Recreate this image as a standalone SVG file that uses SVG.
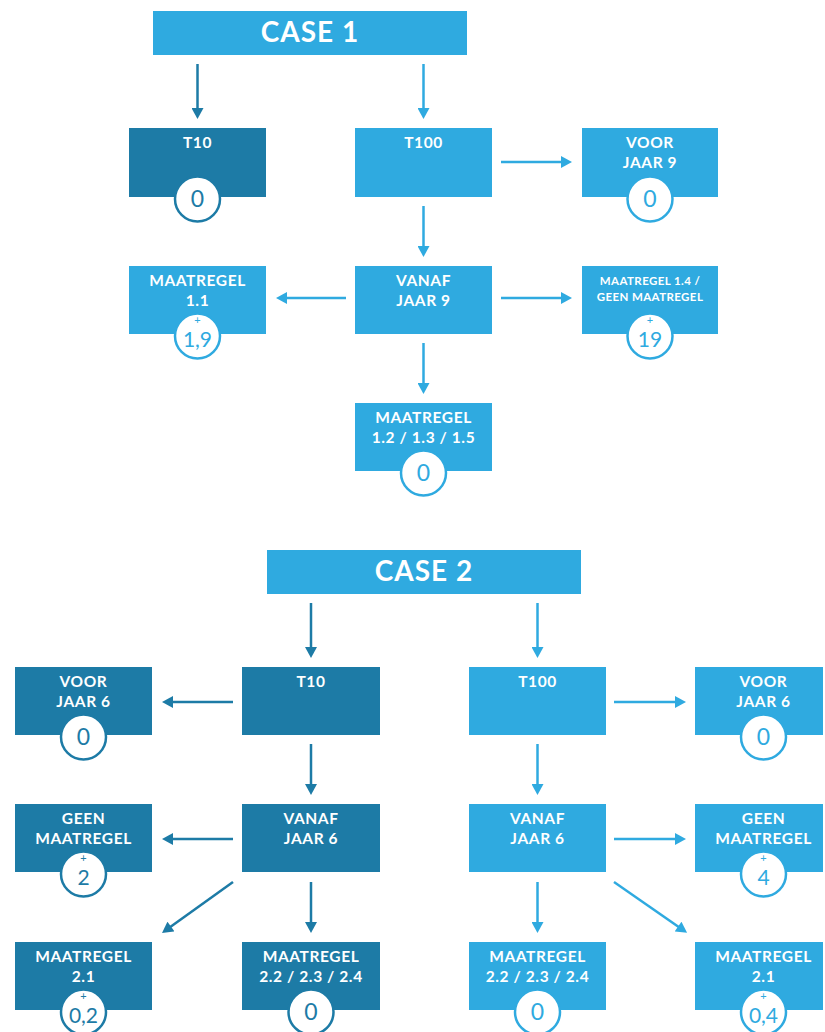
<svg xmlns="http://www.w3.org/2000/svg" width="825" height="1032" viewBox="0 0 825 1032">
<style>
.dk{fill:#1d7ba6}
.lt{fill:#2faae0}
.hd{font-family:Lato,"Liberation Sans",sans-serif;font-weight:700;font-size:28px;letter-spacing:1px;fill:#fff;text-anchor:middle}
.tt{font-family:Lato,"Liberation Sans",sans-serif;font-weight:700;font-size:15.5px;letter-spacing:0.6px;fill:#fff;text-anchor:middle}
.ts{font-family:Lato,"Liberation Sans",sans-serif;font-weight:700;font-size:11.5px;letter-spacing:0.4px;fill:#fff;text-anchor:middle}
.cd{fill:#fff;stroke:#1d7ba6;stroke-width:2.5}
.cl{fill:#fff;stroke:#2faae0;stroke-width:2.5}
.nd{font-family:Lato,"Liberation Sans",sans-serif;font-weight:400;font-size:23px;fill:#1d7ba6;text-anchor:middle}
.nl{font-family:Lato,"Liberation Sans",sans-serif;font-weight:400;font-size:23px;fill:#2faae0;text-anchor:middle}
.sd{font-family:Lato,"Liberation Sans",sans-serif;font-weight:400;font-size:21px;fill:#1d7ba6;text-anchor:middle}
.sl{font-family:Lato,"Liberation Sans",sans-serif;font-weight:400;font-size:21px;fill:#2faae0;text-anchor:middle}
.pd{font-family:Lato,"Liberation Sans",sans-serif;font-weight:400;font-size:11px;fill:#1d7ba6;text-anchor:middle}
.pl{font-family:Lato,"Liberation Sans",sans-serif;font-weight:400;font-size:11px;fill:#2faae0;text-anchor:middle}
.ad{stroke:#1d7ba6;stroke-width:2.5;fill:none;marker-end:url(#hd)}
.al{stroke:#2faae0;stroke-width:2.5;fill:none;marker-end:url(#hl)}
</style>
<defs>
<marker id="hd" markerUnits="userSpaceOnUse" markerWidth="12" markerHeight="12" viewBox="0 0 11 12" refX="3" refY="6" orient="auto"><path d="M0,0 L11,6 L0,12 z" fill="#1d7ba6"/></marker>
<marker id="hl" markerUnits="userSpaceOnUse" markerWidth="12" markerHeight="12" viewBox="0 0 11 12" refX="3" refY="6" orient="auto"><path d="M0,0 L11,6 L0,12 z" fill="#2faae0"/></marker>
</defs>

<g id="connectors">
<line class="ad" x1="197.5" y1="64" x2="197.5" y2="111"/>
<line class="al" x1="423.5" y1="64" x2="423.5" y2="111"/>
<line class="al" x1="501" y1="162" x2="564" y2="162"/>
<line class="al" x1="423.5" y1="206" x2="423.5" y2="249"/>
<line class="al" x1="346" y1="298" x2="284" y2="298"/>
<line class="al" x1="501" y1="298" x2="564" y2="298"/>
<line class="al" x1="423.5" y1="343" x2="423.5" y2="386"/>
<line class="ad" x1="311" y1="603" x2="311" y2="650"/>
<line class="al" x1="537.5" y1="603" x2="537.5" y2="650"/>
<line class="ad" x1="233" y1="702" x2="170" y2="702"/>
<line class="al" x1="614" y1="702" x2="678" y2="702"/>
<line class="ad" x1="311" y1="744" x2="311" y2="787"/>
<line class="al" x1="537.5" y1="744" x2="537.5" y2="787"/>
<line class="ad" x1="233" y1="839" x2="170" y2="839"/>
<line class="al" x1="614" y1="839" x2="678" y2="839"/>
<line class="ad" x1="311" y1="882" x2="311" y2="925"/>
<line class="al" x1="537.5" y1="882" x2="537.5" y2="925"/>
<line class="ad" x1="233" y1="882" x2="168.5" y2="928.3"/>
<line class="al" x1="614" y1="882" x2="680.5" y2="928.3"/>
</g>

<g id="case1">
<rect class="lt" x="153" y="11" width="314" height="44"/>
<text class="hd" x="310" y="42">CASE 1</text>
</g>
<g id="c1-t10">
<rect class="dk" x="129" y="128" width="137" height="69"/>
<text class="tt" x="197.5" y="148">T10</text>
<circle class="cd" cx="197.5" cy="199" r="22.5"/>
<text class="nd" x="197.5" y="207">0</text>
</g>
<g id="c1-t100">
<rect class="lt" x="355" y="128" width="137" height="69"/>
<text class="tt" x="423.5" y="148">T100</text>
</g>
<g id="c1-voor">
<rect class="lt" x="582" y="128" width="136" height="69"/>
<text class="tt" x="650" y="148">VOOR</text>
<text class="tt" x="650" y="168">JAAR 9</text>
<circle class="cl" cx="650" cy="199" r="22.5"/>
<text class="nl" x="650" y="207">0</text>
</g>
<g id="c1-vanaf">
<rect class="lt" x="355" y="266" width="137" height="68"/>
<text class="tt" x="423.5" y="286">VANAF</text>
<text class="tt" x="423.5" y="306">JAAR 9</text>
</g>
<g id="c1-m11">
<rect class="lt" x="129" y="266" width="137" height="68"/>
<text class="tt" x="197.5" y="286">MAATREGEL</text>
<text class="tt" x="197.5" y="306">1.1</text>
<circle class="cl" cx="197.5" cy="336" r="22.5"/>
<text class="pl" x="197.5" y="324">+</text>
<text class="sl" x="197.5" y="346.5">1,9</text>
</g>
<g id="c1-m14">
<rect class="lt" x="582" y="266" width="136" height="68"/>
<text class="ts" x="650" y="285">MAATREGEL 1.4 /</text>
<text class="ts" x="650" y="301">GEEN MAATREGEL</text>
<circle class="cl" cx="650" cy="336" r="22.5"/>
<text class="pl" x="650" y="324">+</text>
<text class="sl" x="650" y="346.5">19</text>
</g>
<g id="c1-m12">
<rect class="lt" x="355" y="403" width="137" height="68"/>
<text class="tt" x="423.5" y="423">MAATREGEL</text>
<text class="tt" x="423.5" y="443">1.2 / 1.3 / 1.5</text>
<circle class="cl" cx="423.5" cy="473" r="22.5"/>
<text class="nl" x="423.5" y="481">0</text>
</g>

<g id="case2">
<rect class="lt" x="267" y="550" width="314" height="44"/>
<text class="hd" x="424" y="581">CASE 2</text>
</g>
<g id="c2-t10">
<rect class="dk" x="242" y="667" width="138" height="68"/>
<text class="tt" x="311" y="687">T10</text>
</g>
<g id="c2-voor-d">
<rect class="dk" x="15" y="667" width="137" height="68"/>
<text class="tt" x="83.5" y="687">VOOR</text>
<text class="tt" x="83.5" y="707">JAAR 6</text>
<circle class="cd" cx="83.5" cy="737" r="22.5"/>
<text class="nd" x="83.5" y="745">0</text>
</g>
<g id="c2-t100">
<rect class="lt" x="469" y="667" width="137" height="68"/>
<text class="tt" x="537.5" y="687">T100</text>
</g>
<g id="c2-voor-l">
<rect class="lt" x="695" y="667" width="128" height="68"/>
<text class="tt" x="763.5" y="687">VOOR</text>
<text class="tt" x="763.5" y="707">JAAR 6</text>
<circle class="cl" cx="763.5" cy="737" r="22.5"/>
<text class="nl" x="763.5" y="745">0</text>
</g>
<g id="c2-vanaf-d">
<rect class="dk" x="242" y="804" width="138" height="68"/>
<text class="tt" x="311" y="824">VANAF</text>
<text class="tt" x="311" y="844">JAAR 6</text>
</g>
<g id="c2-geen-d">
<rect class="dk" x="15" y="804" width="137" height="68"/>
<text class="tt" x="83.5" y="824">GEEN</text>
<text class="tt" x="83.5" y="844">MAATREGEL</text>
<circle class="cd" cx="83.5" cy="874" r="22.5"/>
<text class="pd" x="83.5" y="862">+</text>
<text class="sd" x="83.5" y="884.5">2</text>
</g>
<g id="c2-vanaf-l">
<rect class="lt" x="469" y="804" width="137" height="68"/>
<text class="tt" x="537.5" y="824">VANAF</text>
<text class="tt" x="537.5" y="844">JAAR 6</text>
</g>
<g id="c2-geen-l">
<rect class="lt" x="695" y="804" width="128" height="68"/>
<text class="tt" x="763.5" y="824">GEEN</text>
<text class="tt" x="763.5" y="844">MAATREGEL</text>
<circle class="cl" cx="763.5" cy="874" r="22.5"/>
<text class="pl" x="763.5" y="862">+</text>
<text class="sl" x="763.5" y="884.5">4</text>
</g>
<g id="c2-m21-d">
<rect class="dk" x="15" y="942" width="137" height="68"/>
<text class="tt" x="83.5" y="962">MAATREGEL</text>
<text class="tt" x="83.5" y="982">2.1</text>
<circle class="cd" cx="83.5" cy="1012" r="22.5"/>
<text class="pd" x="83.5" y="1000">+</text>
<text class="sd" x="83.5" y="1022.5">0,2</text>
</g>
<g id="c2-m22-d">
<rect class="dk" x="242" y="942" width="138" height="68"/>
<text class="tt" x="311" y="962">MAATREGEL</text>
<text class="tt" x="311" y="982">2.2 / 2.3 / 2.4</text>
<circle class="cd" cx="311" cy="1012" r="22.5"/>
<text class="nd" x="311" y="1020">0</text>
</g>
<g id="c2-m22-l">
<rect class="lt" x="469" y="942" width="137" height="68"/>
<text class="tt" x="537.5" y="962">MAATREGEL</text>
<text class="tt" x="537.5" y="982">2.2 / 2.3 / 2.4</text>
<circle class="cl" cx="537.5" cy="1012" r="22.5"/>
<text class="nl" x="537.5" y="1020">0</text>
</g>
<g id="c2-m21-l">
<rect class="lt" x="695" y="942" width="128" height="68"/>
<text class="tt" x="763.5" y="962">MAATREGEL</text>
<text class="tt" x="763.5" y="982">2.1</text>
<circle class="cl" cx="763.5" cy="1012" r="22.5"/>
<text class="pl" x="763.5" y="1000">+</text>
<text class="sl" x="763.5" y="1022.5">0,4</text>
</g>
</svg>
